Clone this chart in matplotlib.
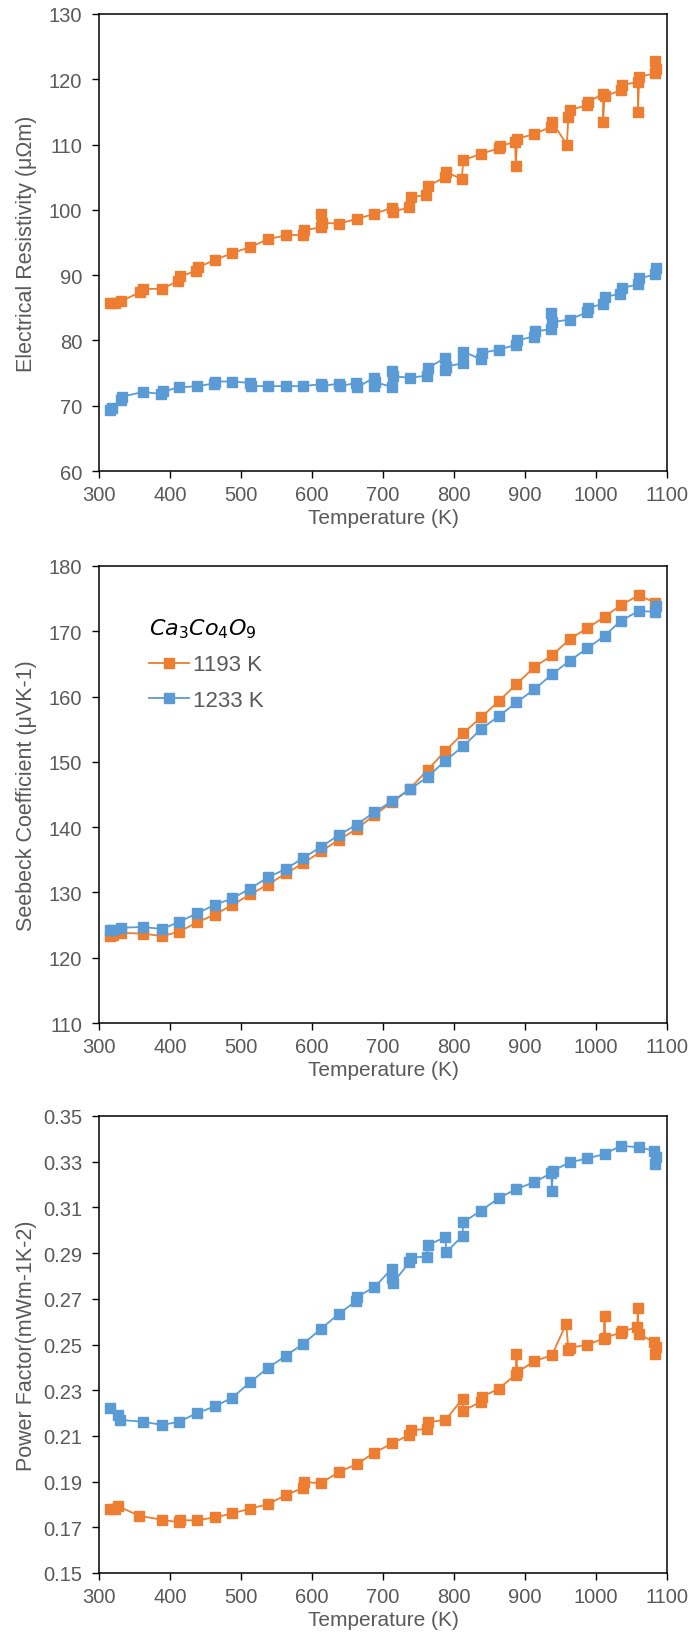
import matplotlib
matplotlib.use("Agg")
import matplotlib.pyplot as plt
from matplotlib.ticker import FormatStrFormatter

plt.rcParams['font.family'] = ['Liberation Sans', 'DejaVu Sans']
plt.rcParams['mathtext.fontset'] = 'dejavusans'

ORANGE = '#ED7D31'
BLUE = '#5B9BD5'
GREY = '#595959'

# electrical resistivity (uOhm m)
rho_T_1193 = [316, 323, 331, 358, 362, 389, 411, 414, 436, 439, 463, 488, 513, 538, 563,
              587, 589, 612, 613, 614, 638, 663, 688, 712, 714, 737, 739, 761, 763, 787,
              789, 811, 813, 838, 863, 865, 886, 887, 889, 913, 936, 938, 959, 961, 963,
              987, 989, 1010, 1010, 1012, 1035, 1037, 1059, 1059, 1061, 1083, 1083, 1084]
rho_1193 = [85.8, 85.7, 86.0, 87.4, 87.9, 87.9, 89.1, 89.8, 90.6, 91.2, 92.3, 93.4, 94.3, 95.5, 96.1,
            96.2, 96.9, 97.3, 99.4, 98.0, 97.9, 98.6, 99.4, 100.3, 99.7, 100.4, 101.9, 102.3, 103.6, 105.0,
            105.8, 104.7, 107.6, 108.6, 109.4, 109.8, 110.4, 106.7, 110.9, 111.6, 112.7, 113.5, 110.0, 114.2, 115.3,
            116.0, 116.5, 117.8, 113.5, 117.4, 118.3, 119.1, 119.6, 115.0, 120.4, 120.9, 122.8, 121.5]
rho_T_1233 = [316, 318, 331, 333, 362, 388, 390, 413, 438, 462, 464, 488, 512, 514, 538,
              563, 588, 612, 614, 638, 640, 662, 664, 687, 688, 689, 712, 713, 714, 738,
              762, 764, 787, 788, 789, 812, 813, 838, 840, 863, 887, 889, 912, 914, 936,
              937, 938, 963, 987, 989, 1010, 1012, 1034, 1036, 1059, 1061, 1083, 1084]
rho_1233 = [69.3, 69.7, 70.8, 71.4, 72.1, 71.8, 72.2, 72.8, 73.0, 73.4, 73.7, 73.7, 73.5, 73.0, 73.0,
            73.0, 73.0, 73.3, 73.0, 73.4, 73.0, 73.5, 72.8, 74.3, 73.0, 73.6, 72.9, 75.3, 74.5, 74.3,
            74.6, 75.8, 77.3, 75.4, 76.0, 76.5, 78.3, 77.1, 78.1, 78.6, 79.3, 80.0, 80.6, 81.4, 81.7,
            84.2, 82.8, 83.2, 84.3, 85.0, 85.6, 86.7, 87.1, 88.0, 88.6, 89.5, 90.1, 91.1]

# Seebeck coefficient (uV/K)
s_T_1193 = [316, 320, 331, 362, 389, 413, 438, 463, 488, 513, 538, 563, 588, 613, 638, 663, 688,
            713, 738, 763, 788, 813, 838, 863, 888, 913, 938, 963, 988, 1012, 1035, 1060, 1083]
s_1193 = [123.3, 123.5, 123.8, 123.7, 123.3, 124.0, 125.4, 126.6, 128.1, 129.7, 131.2, 132.9, 134.5,
          136.3, 138.1, 139.7, 141.9, 143.8, 145.9, 148.8, 151.7, 154.4, 156.8, 159.3, 161.9, 164.5,
          166.3, 168.8, 170.5, 172.2, 174.0, 175.5, 174.4]
s_T_1233 = [316, 320, 331, 362, 389, 413, 438, 463, 488, 513, 538, 563, 588, 613, 638, 663, 688,
            713, 738, 763, 788, 813, 838, 863, 888, 913, 938, 963, 988, 1012, 1035, 1060, 1083, 1084]
s_1233 = [124.3, 124.2, 124.6, 124.7, 124.4, 125.5, 126.8, 128.1, 129.1, 130.6, 132.3, 133.6, 135.3,
          137.0, 138.8, 140.4, 142.3, 144.0, 145.8, 147.7, 150.2, 152.4, 155.0, 157.0, 159.1, 161.1,
          163.4, 165.5, 167.4, 169.3, 171.6, 173.1, 173.0, 173.9]

# power factor (mW m-1 K-2)
pf_T_1193 = [316, 322, 327, 357, 389, 412, 414, 438, 463, 488, 513, 538, 563, 587, 589, 613, 638,
             663, 688, 713, 737, 739, 762, 764, 788, 812, 813, 838, 839, 863, 887, 888, 889, 913,
             938, 958, 961, 963, 988, 1011, 1012, 1013, 1035, 1037, 1058, 1059, 1060, 1082, 1083, 1084]
pf_1193 = [0.1778, 0.1782, 0.1792, 0.1750, 0.1733, 0.1722, 0.1730, 0.1731, 0.1743, 0.1761, 0.1782,
           0.1801, 0.1841, 0.1872, 0.1898, 0.1893, 0.1943, 0.1976, 0.2027, 0.2067, 0.2105, 0.2125,
           0.2130, 0.2160, 0.2170, 0.2262, 0.2210, 0.2250, 0.2270, 0.2307, 0.2368, 0.2460, 0.2378,
           0.2427, 0.2453, 0.2591, 0.2478, 0.2485, 0.2500, 0.2526, 0.2623, 0.2530, 0.2552, 0.2558,
           0.2575, 0.2659, 0.2545, 0.2511, 0.2460, 0.2490]
pf_T_1233 = [316, 327, 330, 362, 389, 413, 438, 463, 488, 513, 538, 563, 588, 613, 638, 662, 664,
             688, 712, 713, 714, 737, 739, 762, 763, 788, 789, 812, 813, 838, 863, 888, 913, 937,
             938, 939, 963, 988, 1012, 1035, 1060, 1082, 1083, 1084]
pf_1233 = [0.2224, 0.2190, 0.2170, 0.2162, 0.2148, 0.2162, 0.2200, 0.2229, 0.2268, 0.2335, 0.2398,
           0.2450, 0.2504, 0.2569, 0.2635, 0.2690, 0.2710, 0.2751, 0.2830, 0.2790, 0.2768, 0.2860,
           0.2880, 0.2885, 0.2935, 0.2970, 0.2904, 0.2975, 0.3035, 0.3086, 0.3140, 0.3181, 0.3210,
           0.3250, 0.3173, 0.3260, 0.3297, 0.3315, 0.3333, 0.3370, 0.3363, 0.3348, 0.3290, 0.3320]

labels = ['1193 K', '1233 K']

panels = [
    (rho_T_1193, rho_1193, rho_T_1233, rho_1233, 'Electrical Resistivity (μΩm)', (60, 130), 10, '%d'),
    (s_T_1193, s_1193, s_T_1233, s_1233, 'Seebeck Coefficient (μVK-1)', (110, 180), 10, '%d'),
    (pf_T_1193, pf_1193, pf_T_1233, pf_1233, 'Power Factor(mWm-1K-2)', (0.15, 0.35), 0.02, '%.2f'),
]

fig = plt.figure(figsize=(6.95, 16.40), dpi=100)
bottoms = [1 - 472 / 1640, 1 - 1024 / 1640, 1 - 1574 / 1640]
for i, (T1, y1, T2, y2, ylab, ylim, step, fmt) in enumerate(panels):
    ax = fig.add_axes([99 / 695, bottoms[i], 568 / 695, 457 / 1640])
    l1, = ax.plot(T1, y1, '-s', color=ORANGE, ms=7.5, lw=1.3, mec=ORANGE)
    l2, = ax.plot(T2, y2, '-s', color=BLUE, ms=7.5, lw=1.3, mec=BLUE)
    ax.set_xlim(300, 1100)
    ax.set_ylim(*ylim)
    ax.set_xticks(range(300, 1101, 100))
    n = int(round((ylim[1] - ylim[0]) / step))
    ax.set_yticks([ylim[0] + k * step for k in range(n + 1)])
    ax.yaxis.set_major_formatter(FormatStrFormatter(fmt))
    ax.tick_params(direction='out', length=5, width=1, color='black',
                   labelsize=14.5, labelcolor=GREY)
    ax.tick_params(axis='y', pad=7)
    ax.tick_params(axis='x', pad=5)
    for sp in ax.spines.values():
        sp.set_linewidth(1.1)
        sp.set_color('black')
    ax.set_xlabel('Temperature (K)', fontsize=15, color=GREY, labelpad=3)
    ax.set_ylabel(ylab, fontsize=15.5, color=GREY)
    ax.yaxis.set_label_coords(-0.11, 0.5)
    if i == 1:
        leg = ax.legend([l1, l2], labels, title=r'$Ca_3Co_4O_9$', loc='upper left',
                        bbox_to_anchor=(0.088, 0.89), frameon=False, fontsize=16,
                        title_fontsize=16, handlelength=1.8, handletextpad=0.2,
                        borderpad=0, borderaxespad=0, labelspacing=0.65,
                        alignment='left')
        for t in leg.get_texts():
            t.set_color(GREY)

fig.savefig('out.png', dpi=100)
